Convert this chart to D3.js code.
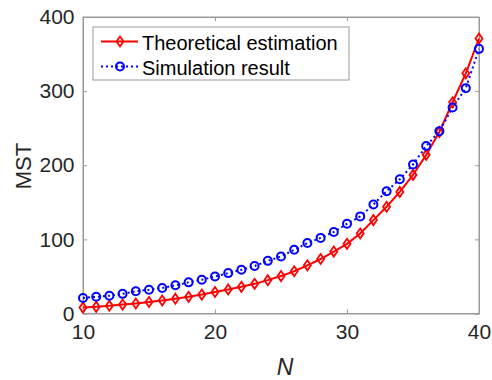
<!DOCTYPE html>
<html><head><meta charset="utf-8">
<script src="https://cdn.jsdelivr.net/npm/d3@7"></script>
<style>body{margin:0;background:#fff}svg{display:block}</style>
</head><body>
<script>
const N = d3.range(10, 41);
const theoretical = [8, 9, 10.5, 12, 13.5, 15.5, 17.5, 20, 22.5, 25.5, 29, 32.5, 36, 40, 45, 50.5, 57, 65, 73.5, 83.5, 94, 108, 126, 144, 164, 187, 214, 245, 285, 324, 371];
const simulation = [21, 22.5, 24, 26.5, 30, 32, 34.5, 38, 42, 45.5, 50, 54.5, 59, 64, 71, 77, 86, 95, 102, 110, 121, 131, 147, 165, 181, 201, 226, 246, 278, 304, 357];
const xTicks = [10, 20, 30, 40];
const yTicks = [0, 100, 200, 300, 400];
const seriesNames = ["Theoretical estimation", "Simulation result"];

const W = 492, H = 380;
const L = 83, R = 479, T = 17, B = 313.5;
const font = "'Liberation Sans', Arial, sans-serif";
const axisColor = "#9a9a9a", textColor = "#262626";

const svg = d3.select("body").append("svg").attr("width", W).attr("height", H);
const x = d3.scaleLinear().domain([10, 40]).range([L, R]);
const y = d3.scaleLinear().domain([0, 400]).range([B, T]);

// box
svg.append("rect").attr("x", L).attr("y", T).attr("width", R - L).attr("height", B - T)
  .attr("fill", "none").attr("stroke", axisColor).attr("stroke-width", 1);

// axes
const gx = svg.append("g").attr("transform", `translate(0,${B})`)
  .call(d3.axisBottom(x).tickValues(xTicks).tickSize(-4).tickPadding(11).tickFormat(d3.format("d")));
const gxt = svg.append("g").attr("transform", `translate(0,${T})`)
  .call(d3.axisTop(x).tickValues(xTicks).tickSize(-4).tickFormat(""));
const gy = svg.append("g").attr("transform", `translate(${L},0)`)
  .call(d3.axisLeft(y).tickValues(yTicks).tickSize(-4).tickPadding(8.5).tickFormat(d3.format("d")));
const gyr = svg.append("g").attr("transform", `translate(${R},0)`)
  .call(d3.axisRight(y).tickValues(yTicks).tickSize(-4).tickFormat(""));
[gx, gxt, gy, gyr].forEach(g => {
  g.select(".domain").attr("stroke", axisColor);
  g.selectAll(".tick line").attr("stroke", axisColor);
  g.selectAll("text").attr("fill", textColor).style("font-family", font).style("font-size", "21px");
});
gx.selectAll("text").attr("dy", "0.71em");

// axis labels
svg.append("text").attr("x", 285).attr("y", 375).attr("text-anchor", "middle")
  .style("font-family", font).style("font-size", "23px").style("font-style", "italic")
  .attr("fill", textColor).text("N");
svg.append("text").attr("transform", `translate(31,166) rotate(-90)`).attr("text-anchor", "middle")
  .style("font-family", font).style("font-size", "22px").attr("fill", textColor).text("MST");

// lines
const lineT = d3.line().x((d, i) => x(N[i])).y(d => y(d));
svg.append("path").datum(theoretical).attr("d", lineT).attr("fill", "none")
  .attr("stroke", "#ff0000").attr("stroke-width", 2);
svg.append("path").datum(simulation).attr("d", lineT).attr("fill", "none")
  .attr("stroke", "#0000ff").attr("stroke-width", 2).attr("stroke-dasharray", "2,3");

const diamond = (cx, cy) => `M${cx},${cy - 5}L${cx + 3.5},${cy}L${cx},${cy + 5}L${cx - 3.5},${cy}Z`;
svg.append("g").selectAll("path").data(theoretical).join("path")
  .attr("d", (d, i) => diamond(x(N[i]), y(d)))
  .attr("fill", "none").attr("stroke", "#ff0000").attr("stroke-width", 1.8);
svg.append("g").selectAll("circle").data(simulation).join("circle")
  .attr("cx", (d, i) => x(N[i])).attr("cy", d => y(d)).attr("r", 4)
  .attr("fill", "none").attr("stroke", "#0000ff").attr("stroke-width", 2);

// legend
const lg = svg.append("g");
lg.append("rect").attr("x", 93).attr("y", 27).attr("width", 256).attr("height", 53)
  .attr("fill", "#fff").attr("stroke", "#9a9a9a").attr("stroke-width", 1);
const ly = [41.5, 66.5];
lg.append("line").attr("x1", 101).attr("x2", 138).attr("y1", ly[0]).attr("y2", ly[0])
  .attr("stroke", "#ff0000").attr("stroke-width", 2);
lg.append("path").attr("d", diamond(120, ly[0])).attr("fill", "none").attr("stroke", "#ff0000").attr("stroke-width", 1.8);
lg.append("line").attr("x1", 101).attr("x2", 138).attr("y1", ly[1]).attr("y2", ly[1])
  .attr("stroke", "#0000ff").attr("stroke-width", 2).attr("stroke-dasharray", "2,3");
lg.append("circle").attr("cx", 120).attr("cy", ly[1]).attr("r", 4).attr("fill", "none")
  .attr("stroke", "#0000ff").attr("stroke-width", 2);
lg.selectAll("text.lt").data(seriesNames).join("text").attr("class", "lt")
  .attr("x", 142).attr("y", (d, i) => ly[i] + 8)
  .style("font-family", font).style("font-size", "20px").attr("fill", "#000").text(d => d);
</script>
</body></html>
